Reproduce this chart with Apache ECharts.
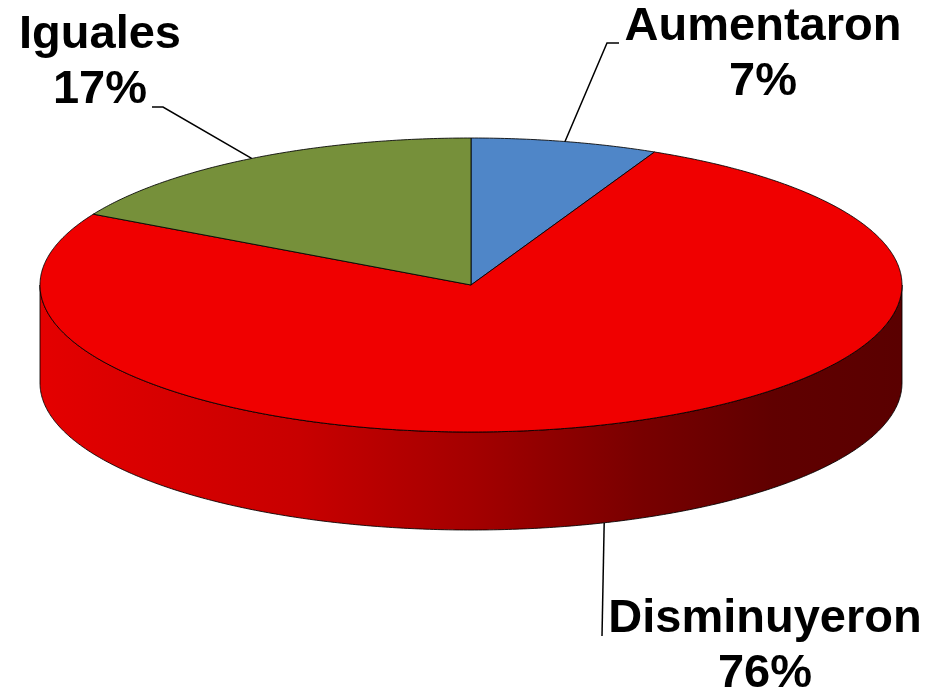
<!DOCTYPE html>
<html>
<head>
<meta charset="utf-8">
<script src="https://cdn.jsdelivr.net/npm/echarts@6/dist/echarts.min.js"></script>
<style>html,body{margin:0;padding:0;background:#fff}#c{width:928px;height:695px}</style>
</head>
<body>
<div id="c"></div>
<script>
// ---- data ----
const categories = ['Aumentaron', 'Disminuyeron', 'Iguales'];
const values = [7, 76, 17];           // percent
const colors = ['#4f86c8', '#f00000', '#76903a'];

// ---- layout (positions / sizes) ----
const geo = { cx: 471, cy: 285, rx: 431, ry: 147, depth: 98 };
const labelLayout = [
  { tx: 763, ty: 0,   path: [[607, 43], [619, 43]] },
  { tx: 765, ty: 592, path: [[602, 636]] },
  { tx: 100, ty: 8,   path: [[163, 107], [152, 107]] }
];

const total = values.reduce((a, b) => a + b, 0);
function pt(t, dy) {
  const r = t * Math.PI / 180;
  return [geo.cx + geo.rx * Math.sin(r), geo.cy - geo.ry * Math.cos(r) + (dy || 0)];
}
function arc(a, b, dy) {
  const pts = [];
  const n = Math.max(2, Math.ceil(Math.abs(b - a) / 0.5));
  for (let k = 0; k <= n; k++) pts.push(pt(a + (b - a) * k / n, dy));
  return pts;
}
const sideGrad = {
  type: 'linear', x: geo.cx - geo.rx, y: 0, x2: geo.cx + geo.rx, y2: 0, global: true,
  colorStops: [
    { offset: 0, color: '#e40000' },
    { offset: 0.3, color: '#c80000' },
    { offset: 0.5, color: '#a40000' },
    { offset: 0.7, color: '#780000' },
    { offset: 0.85, color: '#600000' },
    { offset: 1, color: '#5a0000' }
  ]
};

function renderItem(params, api) {
  const i = params.dataIndex;
  let start = 0;
  for (let k = 0; k < i; k++) start += values[k] / total * 360;
  const v = api.value(0);
  const end = start + v / total * 360;
  const children = [];
  // top face
  children.push({
    type: 'polygon', z2: 10,
    shape: { points: [[geo.cx, geo.cy]].concat(arc(start, end, 0)) },
    style: { fill: colors[i], stroke: 'rgba(0,0,0,0.85)', lineWidth: 1 }
  });
  // side wall (front half only)
  const a = Math.max(start, 90), b = Math.min(end, 270);
  if (b > a) {
    children.push({
      type: 'polygon', z2: 1,
      shape: { points: arc(a, b, 0).concat(arc(b, a, geo.depth)) },
      style: { fill: i === 1 ? sideGrad : colors[i], stroke: 'rgba(0,0,0,0.85)', lineWidth: 1 }
    });
  }
  // label + leader
  const mid = (start + end) / 2;
  const front = Math.cos(mid * Math.PI / 180) < 0;
  const anchor = pt(mid, front ? geo.depth : 0);
  const L = labelLayout[i];
  children.push({
    type: 'polyline', z2: 20,
    shape: { points: [anchor].concat(L.path) },
    style: { stroke: '#000', lineWidth: 1.5, fill: null }
  });
  children.push({
    type: 'text', z2: 20, x: L.tx, y: L.ty,
    style: {
      text: categories[i] + '\n' + v + '%',
      fill: '#000', align: 'center', verticalAlign: 'top',
      font: 'bold 47px "Liberation Sans", Arial, sans-serif',
      lineHeight: 55
    }
  });
  return { type: 'group', children };
}

const chart = echarts.init(document.getElementById('c'), null, { renderer: 'canvas' });
chart.setOption({
  animation: false,
  backgroundColor: '#fff',
  series: [{
    type: 'custom',
    coordinateSystem: 'none',
    silent: true,
    renderItem,
    data: values.map((v, i) => ({ name: categories[i], value: [v] }))
  }]
});
</script>
</body>
</html>
